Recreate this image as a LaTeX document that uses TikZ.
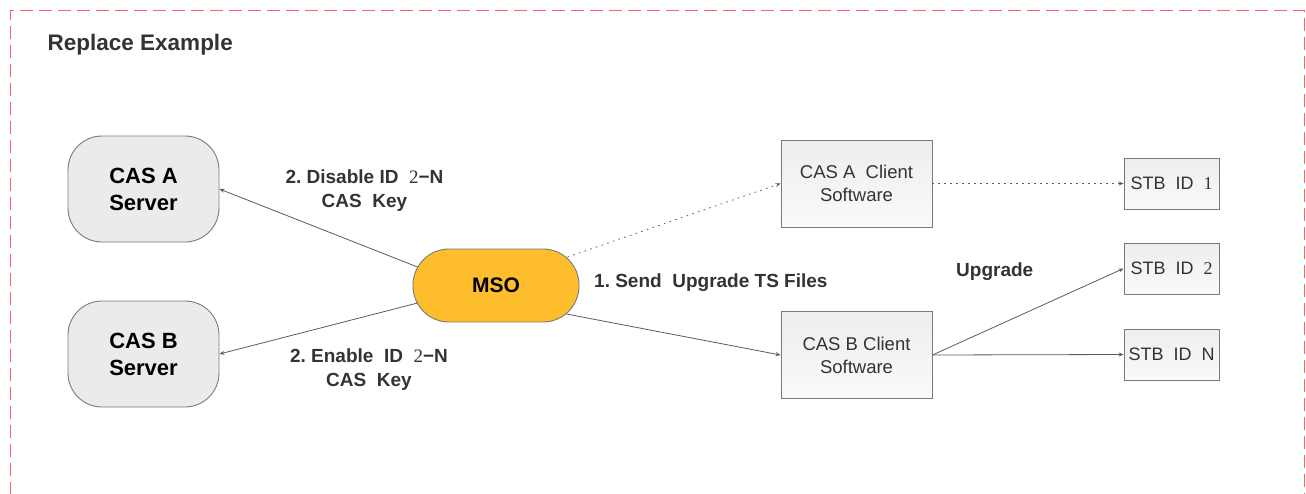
\documentclass[tikz,border=0pt]{standalone}
\usepackage{fontspec}
\setmainfont{Liberation Sans}
\newfontfamily\digitfont{Liberation Serif}
\usetikzlibrary{arrows.meta,calc}
\definecolor{bordred}{HTML}{FF6166}
\definecolor{msofill}{HTML}{FDBD2C}
\definecolor{srvfill}{HTML}{EBEBEB}
\definecolor{conngray}{HTML}{5A5A5A}
\definecolor{boxline}{HTML}{7A7A7A}
\definecolor{txtgray}{HTML}{333333}
\frenchspacing
\begin{document}
\begin{tikzpicture}[x=1pt,y=-1pt,
  server/.style={draw=boxline, fill=srvfill, rounded corners=34pt, minimum width=151pt, minimum height=106pt, align=center, font=\fontsize{22}{27}\selectfont\bfseries, line width=0.9pt, inner sep=0pt},
  msobox/.style={draw=boxline, fill=msofill, rounded corners=36pt, minimum width=166pt, minimum height=73pt, font=\fontsize{21}{25}\selectfont\bfseries, line width=0.9pt, inner sep=0pt},
  client/.style={draw=boxline, top color=black!7, bottom color=black!2, minimum width=151pt, minimum height=87pt, align=center, text=txtgray, font=\fontsize{18.5}{23}\selectfont, line width=0.9pt, inner sep=0pt},
  stbbox/.style={draw=boxline, top color=black!7, bottom color=black!2, minimum width=95pt, minimum height=51pt, text=txtgray, font=\fontsize{18}{22}\selectfont, line width=0.9pt, inner sep=0pt},
  lbl/.style={text=txtgray, font=\fontsize{19}{24}\selectfont\bfseries, inner sep=0pt},
  conn/.style={draw=conngray, line width=0.8pt, -{Stealth[length=5pt,width=4pt]}},
  dotline/.style={dash pattern=on 1.6pt off 4.4pt}
]
\useasboundingbox (0,0) rectangle (1306,493);
\draw[bordred, line width=1.3pt, dash pattern=on 13pt off 6pt] (10.5,495) -- (10.5,10.5) -- (1304.5,10.5) -- (1304.5,495);

\node[anchor=base west, text=txtgray, font=\fontsize{22.5}{26}\selectfont\bfseries, inner sep=0pt] (title) at (47.5,50) {Replace Example};

\node[server] (casA) at (143.5,189) {CAS A\\Server};
\node[server] (casB) at (143.5,354) {CAS B\\Server};
\node[msobox] (mso) at (496,285.5) {MSO};
\node[client] (cliA) at (856.5,183.5) {CAS A\ \ Client\\Software};
\node[client] (cliB) at (856.5,355) {CAS B Client\\Software};
\node[stbbox] (stb1) at (1171.5,183.5) {STB\ \ ID\ \ {\digitfont 1}};
\node[stbbox] (stb2) at (1171.5,268.5) {STB\ \ ID\ \ {\digitfont 2}};
\node[stbbox] (stbN) at (1171.5,354.5) {STB\ \ ID\ \ N};

\node[lbl, align=center] (dis) at (364.5,191) {2. Disable ID\ \ {\digitfont\mdseries 2}−N\\CAS\ \ Key};
\node[lbl, align=center] (ena) at (369,370) {2. Enable\ \ ID\ \ {\digitfont\mdseries 2}−N\\CAS\ \ Key};
\node[lbl, anchor=base west] (send) at (594,287) {1. Send\ \ Upgrade TS Files};
\node[lbl, anchor=base west] (upg) at (956,276) {Upgrade};

\draw[conn] ($(mso.west)+(5,-18.5)$) -- (casA.east);
\draw[conn] ($(mso.west)+(5,17.5)$) -- (casB.east);
\draw[conn, dotline] ($(mso.east)+(-12,-28.5)$) -- (cliA.west);
\draw[conn] ($(mso.east)+(-13,28.5)$) -- (cliB.west);
\draw[conn, dotline] (cliA.east) -- (stb1.west);
\draw[conn] (cliB.east) -- (stb2.west);
\draw[conn] (cliB.east) -- (stbN.west);
\end{tikzpicture}
\end{document}
